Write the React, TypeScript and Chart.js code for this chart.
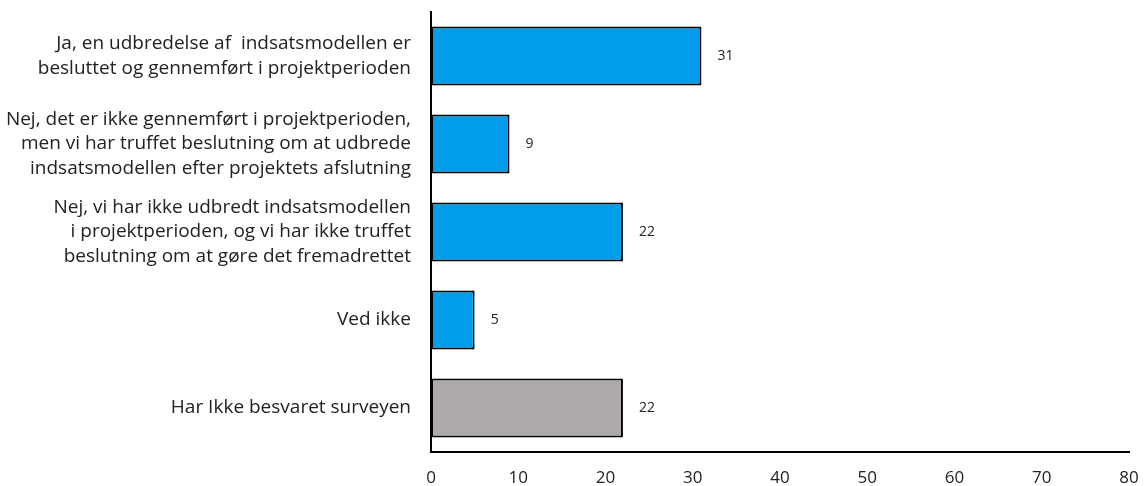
import React, { useEffect, useRef } from "react";
import { Chart, registerables } from "chart.js";

Chart.register(...registerables);

const categories: string[][] = [
  ["Ja, en udbredelse af  indsatsmodellen er", "besluttet og gennemført i projektperioden"],
  ["Nej, det er ikke gennemført i projektperioden,", "men vi har truffet beslutning om at udbrede", "indsatsmodellen efter projektets afslutning"],
  ["Nej, vi har ikke udbredt indsatsmodellen", "i projektperioden, og vi har ikke truffet", "beslutning om at gøre det fremadrettet"],
  ["Ved ikke"],
  ["Har Ikke besvaret surveyen"],
];
const values: number[] = [31, 9, 22, 5, 22];
const barColors: string[] = ["#009DEA", "#009DEA", "#009DEA", "#009DEA", "#AEAAAA"];
const xTicks: number[] = [0, 10, 20, 30, 40, 50, 60, 70, 80];

const valueLabels = {
  id: "valueLabels",
  afterDatasetsDraw(chart: any) {
    const ctx = chart.ctx;
    const meta = chart.getDatasetMeta(0);
    ctx.save();
    ctx.font = "14px 'Open Sans', sans-serif";
    ctx.fillStyle = "#222";
    ctx.textAlign = "left";
    ctx.textBaseline = "middle";
    meta.data.forEach((bar: any, i: number) => {
      ctx.fillText(String(values[i]), bar.x + 16, bar.y);
    });
    ctx.restore();
  },
};

export default function App() {
  const ref = useRef<HTMLCanvasElement>(null);
  useEffect(() => {
    if (!ref.current) return;
    const chart = new Chart(ref.current, {
      type: "bar",
      data: {
        labels: categories,
        datasets: [
          {
            data: values,
            backgroundColor: barColors,
            borderColor: "#000",
            borderWidth: 2,
            borderSkipped: false,
            barPercentage: 0.67,
            categoryPercentage: 1,
          },
        ],
      },
      options: {
        indexAxis: "y",
        animation: false,
        responsive: false,
        maintainAspectRatio: false,
        layout: { padding: { top: 12, right: 16, left: 0, bottom: 0 } },
        plugins: { legend: { display: false }, tooltip: { enabled: false } },
        scales: {
          x: {
            min: 0,
            max: 80,
            afterBuildTicks: (s: any) => {
              s.ticks = xTicks.map((v) => ({ value: v }));
            },
            afterFit: (s: any) => {
              s.height = 34;
              s.paddingLeft = 0;
              s.paddingRight = 0;
            },
            grid: { display: false, drawTicks: false },
            border: { display: true, color: "#000", width: 2 },
            ticks: {
              color: "#222",
              font: { family: "'Open Sans', sans-serif", size: 17 },
              padding: 16,
              maxRotation: 0,
            },
          },
          y: {
            afterFit: (s: any) => {
              s.width = 431;
              s.paddingTop = 0;
              s.paddingBottom = 0;
            },
            grid: { display: false, drawTicks: false },
            border: { display: true, color: "#000", width: 2 },
            ticks: {
              color: "#222",
              font: { family: "'Open Sans', sans-serif", size: 19, lineHeight: 1.29 },
              padding: 20,
              crossAlign: "near",
            },
          },
        },
      },
      plugins: [valueLabels],
    });
    return () => chart.destroy();
  }, []);
  return (
    <div style={{ position: "fixed", left: 0, top: 0, width: 1145, height: 486, background: "#fff" }}>
      <canvas ref={ref} width={1145} height={486} />
    </div>
  );
}
